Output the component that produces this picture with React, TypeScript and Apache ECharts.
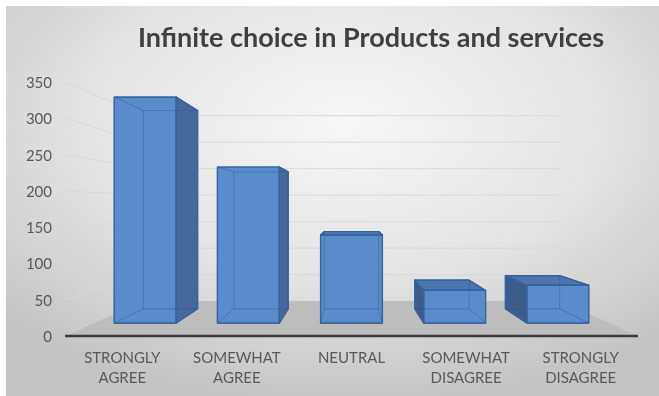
import React, { useEffect, useRef } from "react";
import * as echarts from "echarts";

// ---- data ----
const TITLE = "Infinite choice in Products and services";
const CATEGORIES = [
  "STRONGLY AGREE",
  "SOMEWHAT AGREE",
  "NEUTRAL",
  "SOMEWHAT DISAGREE",
  "STRONGLY DISAGREE",
];
const VALUES = [346, 239, 135, 50, 58];
const Y_TICKS = [0, 50, 100, 150, 200, 250, 300, 350];

// ---- 3D view parameters (layout, not data) ----
const EYE_VALUE = 178; // eye height, in axis units
const VANISH_CAT = 2; // category the viewer stands in front of
const FLOOR_BACK = 0.73; // perspective scale of back wall
const BAR_FRONT = 0.9; // perspective scale of bar front faces
const BAR_BACK = 0.79; // perspective scale of bar back faces
const BAR_RATIO = 0.6;

const FRONT = "#5a8ccb";
const SIDE_R = "#45699c";
const SIDE_L = "#3c5c8b";
const TOP = "#4c76b0";
const EDGE = "#37649f";
const HIDDEN = "rgba(40,80,140,0.4)";

function viewOf(api: any) {
  const vx = api.coord([VANISH_CAT, 0])[0];
  const vy = api.coord([0, EYE_VALUE])[1];
  const P = (X: number, Y: number, s: number) => [vx + s * (X - vx), vy + s * (Y - vy)];
  return { vx, vy, P };
}

export default function App() {
  const ref = useRef<HTMLDivElement>(null);
  useEffect(() => {
    if (!ref.current) return;
    const chart = echarts.init(ref.current, null, { renderer: "svg" });
    const n = CATEGORIES.length;

    const option: any = {
      animation: false,
      graphic: {
        elements: [
          {
            type: "rect",
            z: -10,
            silent: true,
            shape: { x: 6, y: 6, width: 653, height: 390 },
            style: {
              fill: {
                type: "radial",
                x: 0.52,
                y: 0.3,
                r: 0.72,
                colorStops: [
                  { offset: 0, color: "#f6f6f6" },
                  { offset: 0.55, color: "#e4e4e4" },
                  { offset: 1, color: "#c4c4c4" },
                ],
              },
            },
          },
        ],
      },
      title: {
        text: TITLE,
        left: 366,
        textAlign: "center",
        top: 18,
        textStyle: {
          fontFamily: "Lato",
          fontWeight: "bold",
          fontSize: 27,
          color: "#404040",
        },
      },
      grid: { left: 65, right: 21, top: 82, bottom: 60 },
      xAxis: {
        type: "category",
        data: CATEGORIES,
        axisLine: { show: false },
        axisTick: { show: false },
        splitLine: { show: false },
        axisLabel: {
          interval: 0,
          margin: 11,
          fontFamily: "Lato",
          fontSize: 15,
          lineHeight: 20,
          color: "#595959",
          formatter: (v: string) => v.replace(" ", "\n"),
        },
      },
      yAxis: {
        type: "value",
        min: 0,
        max: 350,
        interval: 50,
        axisLine: { show: false },
        axisTick: { show: false },
        splitLine: { show: false },
        axisLabel: {
          margin: 13,
          fontFamily: "Lato",
          fontSize: 15,
          color: "#595959",
        },
      },
      series: [
        {
          type: "custom",
          name: "grid",
          z: 1,
          silent: true,
          data: Y_TICKS.map((t) => [0, t]),
          renderItem: (params: any, api: any) => {
            const { P } = viewOf(api);
            const t = api.value(1);
            const band = api.size([1, 0])[0];
            const y = api.coord([0, t])[1];
            const xL = api.coord([0, t])[0] - band / 2;
            const xR = api.coord([n - 1, t])[0] + band / 2;
            return {
              type: "polyline",
              shape: { points: [[xL, y], P(xL, y, FLOOR_BACK), P(xR, y, FLOOR_BACK)] },
              style: { stroke: "#d9d9d9", lineWidth: 1, fill: "none" },
            };
          },
        },
        {
          type: "custom",
          name: "floor",
          z: 2,
          silent: true,
          data: [[0, 0]],
          renderItem: (params: any, api: any) => {
            const { P } = viewOf(api);
            const band = api.size([1, 0])[0];
            const y = api.coord([0, 0])[1];
            const xL = api.coord([0, 0])[0] - band / 2;
            const xR = api.coord([n - 1, 0])[0] + band / 2;
            return {
              type: "group",
              children: [
                {
                  type: "polygon",
                  shape: {
                    points: [[xL, y], [xR, y], P(xR, y, FLOOR_BACK), P(xL, y, FLOOR_BACK)],
                  },
                  style: { fill: "#bdbdbd" },
                },
                {
                  type: "line",
                  shape: { x1: xL, y1: y, x2: xR, y2: y },
                  style: { stroke: "#3a3a3a", lineWidth: 2.5 },
                },
              ],
            };
          },
        },
        {
          type: "custom",
          name: "Responses",
          z: 3,
          data: VALUES.map((v, i) => [i, v]),
          renderItem: (params: any, api: any) => {
            const { vx, vy, P } = viewOf(api);
            const i = api.value(0);
            const v = api.value(1);
            const top = api.coord([i, v]);
            const base = api.coord([i, 0]);
            const bw = api.size([1, 0])[0] * BAR_RATIO;
            const xl = top[0] - bw / 2;
            const xr = top[0] + bw / 2;
            const yt = top[1];
            const yb = base[1];
            const f = [P(xl, yt, BAR_FRONT), P(xr, yt, BAR_FRONT), P(xr, yb, BAR_FRONT), P(xl, yb, BAR_FRONT)];
            const b = [P(xl, yt, BAR_BACK), P(xr, yt, BAR_BACK), P(xr, yb, BAR_BACK), P(xl, yb, BAR_BACK)];
            const faces: any[] = [];
            const face = (pts: number[][], fill: string) => ({
              type: "polygon",
              shape: { points: pts },
              style: { fill, stroke: EDGE, lineWidth: 1.2, lineJoin: "round" },
            });
            if (xr < vx) faces.push(face([f[1], b[1], b[2], f[2]], SIDE_R));
            if (xl > vx) faces.push(face([f[0], b[0], b[3], f[3]], SIDE_L));
            if (yt > vy) faces.push(face([f[0], f[1], b[1], b[0]], TOP));
            faces.push(face(f, FRONT));
            const edges: number[][][] = [
              [b[0], b[1]], [b[1], b[2]], [b[2], b[3]], [b[3], b[0]],
              [f[0], b[0]], [f[1], b[1]], [f[2], b[2]], [f[3], b[3]],
            ];
            const hidden = edges.map((e) => ({
              type: "line",
              shape: { x1: e[0][0], y1: e[0][1], x2: e[1][0], y2: e[1][1] },
              style: { stroke: HIDDEN, lineWidth: 1 },
            }));
            const outlines = faces.map((fc) => ({
              type: "polygon",
              shape: fc.shape,
              style: { fill: "none", stroke: EDGE, lineWidth: 1.2, lineJoin: "round" },
            }));
            return { type: "group", children: [...faces, ...hidden, ...outlines] };
          },
        },
      ],
    };
    chart.setOption(option);
    return () => chart.dispose();
  }, []);
  return (
    <div
      ref={ref}
      style={{ position: "fixed", left: 0, top: 0, width: 659, height: 396 }}
    />
  );
}
